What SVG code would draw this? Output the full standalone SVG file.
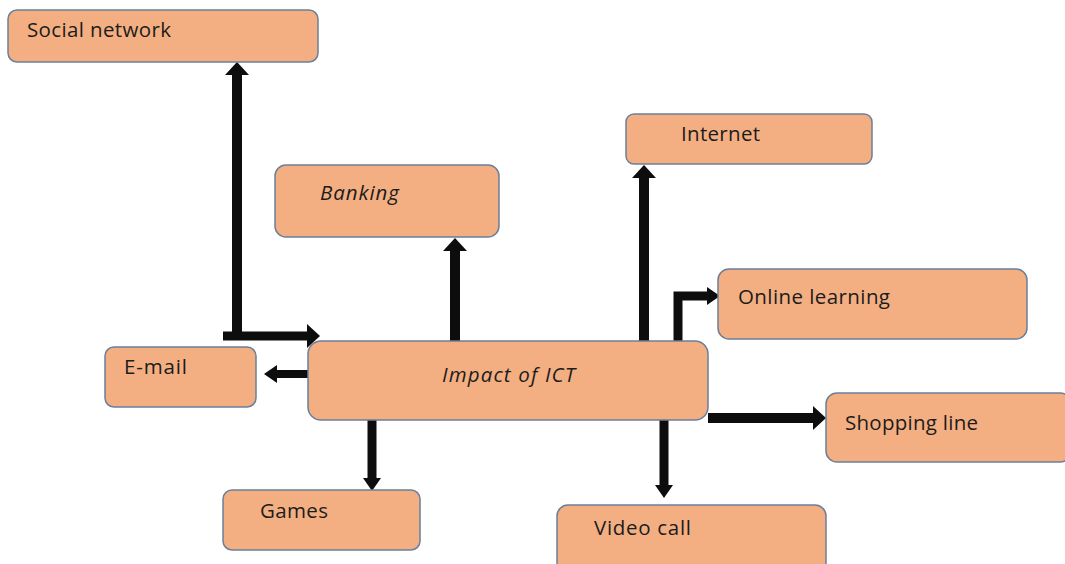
<svg xmlns="http://www.w3.org/2000/svg" width="1065" height="564" viewBox="0 0 1065 564">
<style>
.box{fill:#F3AF81;stroke:#6B7F99;stroke-width:1.5}
.t{font-family:"Open Sans","Liberation Sans",sans-serif;font-size:20.5px;fill:#1c1c1c}
.i{font-style:italic}
.c{fill:none;stroke:#0d0d0d;stroke-linejoin:miter}
</style>
<defs>
<marker id="big" markerUnits="userSpaceOnUse" markerWidth="16" markerHeight="26" refX="0" refY="12" orient="auto-start-reverse" overflow="visible">
<path d="M0 0 L13 12 L0 24 Z" fill="#0d0d0d"/>
</marker>
<marker id="small" markerUnits="userSpaceOnUse" markerWidth="16" markerHeight="20" refX="0" refY="9" orient="auto-start-reverse" overflow="visible">
<path d="M0 0 L13 9 L0 18 Z" fill="#0d0d0d"/>
</marker>
</defs>
<g id="connectors">
<path class="c" d="M237 75 V340" stroke-width="10" marker-start="url(#big)"/>
<path class="c" d="M223 336 H307" stroke-width="9" marker-end="url(#big)"/>
<path class="c" d="M455 341 V251" stroke-width="10" marker-end="url(#big)"/>
<path class="c" d="M644 341 V178" stroke-width="10" marker-end="url(#big)"/>
<path class="c" d="M678 341 V296 H707" stroke-width="9" marker-end="url(#small)"/>
<path class="c" d="M308 374 H277" stroke-width="8" marker-end="url(#small)"/>
<path class="c" d="M708 418 H813" stroke-width="10" marker-end="url(#big)"/>
<path class="c" d="M372 420 V478" stroke-width="9" marker-end="url(#small)"/>
<path class="c" d="M664 420 V485" stroke-width="9" marker-end="url(#small)"/>
</g>
<g id="social"><rect class="box" x="8" y="10" width="310" height="52" rx="9"/><text class="t" x="27" y="37" textLength="144" lengthAdjust="spacing">Social network</text></g>
<g id="banking"><rect class="box" x="275" y="165" width="224" height="72" rx="11"/><text class="t i" x="320" y="200" textLength="79" lengthAdjust="spacing">Banking</text></g>
<g id="internet"><rect class="box" x="626" y="114" width="246" height="50" rx="8"/><text class="t" x="681" y="141" textLength="79" lengthAdjust="spacing">Internet</text></g>
<g id="online"><rect class="box" x="718" y="269" width="309" height="70" rx="11"/><text class="t" x="738" y="304" textLength="152" lengthAdjust="spacing">Online learning</text></g>
<g id="email"><rect class="box" x="105" y="347" width="151" height="60" rx="9"/><text class="t" x="124" y="374" textLength="63" lengthAdjust="spacing">E-mail</text></g>
<g id="impact"><rect class="box" x="308" y="341" width="400" height="79" rx="13"/><text class="t i" x="442" y="382" textLength="133" lengthAdjust="spacing">Impact of ICT</text></g>
<g id="shopping"><rect class="box" x="826" y="393" width="245" height="69" rx="11"/><text class="t" x="845" y="430" textLength="133" lengthAdjust="spacing">Shopping line</text></g>
<g id="games"><rect class="box" x="223" y="490" width="197" height="60" rx="9"/><text class="t" x="260" y="518" textLength="68" lengthAdjust="spacing">Games</text></g>
<g id="video"><rect class="box" x="557" y="505" width="269" height="70" rx="11"/><text class="t" x="594" y="535" textLength="97" lengthAdjust="spacing">Video call</text></g>
</svg>
